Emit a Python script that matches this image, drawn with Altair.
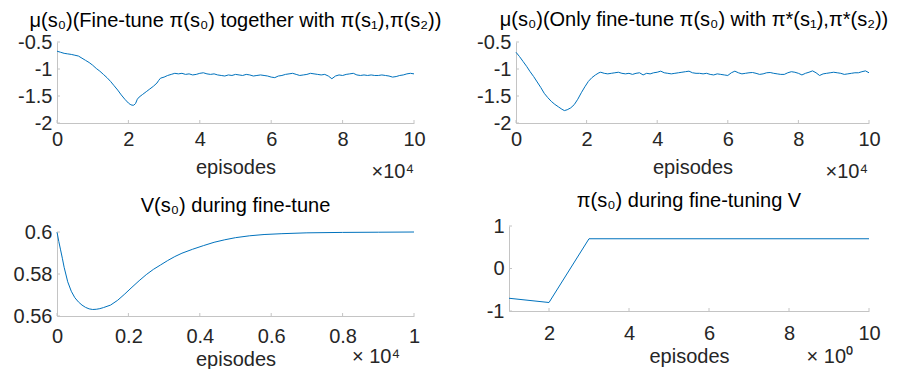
import altair as alt
import pandas as pd

FONT = "Liberation Sans"
BLUE = "#0072BD"
AXIS_GRAY = "#c4c4c4"
TEXT = "#262626"
FS = 20

# ---------------- data ----------------
tl_x = [0.0, 0.1, 0.2, 0.3, 0.4, 0.5, 0.6, 0.7, 0.8, 0.9, 1.0, 1.1, 1.2, 1.3, 1.4, 1.5, 1.6, 1.7, 1.8, 1.9,
        2.0, 2.05, 2.1, 2.15, 2.2, 2.25, 2.3, 2.4, 2.5, 2.6, 2.7, 2.8, 2.85, 2.9, 3.0, 3.1, 3.2, 3.3,
        3.4, 3.5, 3.6, 3.7, 3.8, 3.9, 4.0, 4.1, 4.2, 4.3, 4.4, 4.5, 4.6, 4.7, 4.8, 4.9, 5.0, 5.1, 5.2,
        5.3, 5.4, 5.5, 5.6, 5.7, 5.8, 5.9, 6.0, 6.1, 6.2, 6.3, 6.4, 6.5, 6.6, 6.7, 6.8, 6.9, 7.0, 7.1,
        7.2, 7.3, 7.4, 7.5, 7.6, 7.7, 7.8, 7.9, 8.0, 8.1, 8.2, 8.3, 8.4, 8.5, 8.6, 8.7, 8.8, 8.9, 9.0,
        9.1, 9.2, 9.3, 9.4, 9.5, 9.6, 9.7, 9.8, 9.9, 10.0]
tl_y = [-0.67, -0.69, -0.71, -0.72, -0.73, -0.745, -0.76, -0.80, -0.84, -0.88, -0.93, -0.99, -1.04,
        -1.10, -1.16, -1.23, -1.31, -1.39, -1.48, -1.56, -1.63, -1.655, -1.67, -1.67, -1.64, -1.56,
        -1.52, -1.47, -1.42, -1.37, -1.32, -1.26, -1.21, -1.17, -1.15, -1.12, -1.10, -1.08,
        -1.09, -1.08, -1.10, -1.09, -1.11, -1.10, -1.08, -1.07, -1.09, -1.10, -1.09, -1.11, -1.12,
        -1.13, -1.11, -1.12, -1.10, -1.11, -1.12, -1.10, -1.11, -1.13, -1.12, -1.11, -1.12, -1.13,
        -1.15, -1.16, -1.13, -1.12, -1.10, -1.09, -1.08, -1.10, -1.12, -1.11, -1.10, -1.08, -1.09,
        -1.10, -1.11, -1.10, -1.13, -1.18, -1.13, -1.11, -1.12, -1.10, -1.09, -1.08, -1.11, -1.12,
        -1.11, -1.12, -1.11, -1.12, -1.12, -1.11, -1.12, -1.13, -1.15, -1.14, -1.12, -1.11, -1.09,
        -1.08, -1.09]

tr_x = [0.0, 0.1, 0.2, 0.3, 0.4, 0.5, 0.6, 0.7, 0.8, 0.9, 1.0, 1.1, 1.2, 1.3, 1.37, 1.45, 1.55, 1.65,
        1.75, 1.85, 1.95, 2.05, 2.15, 2.25, 2.35, 2.4,
        2.5, 2.6, 2.7, 2.8, 2.9, 3.0, 3.1, 3.2, 3.3, 3.4, 3.5, 3.6, 3.7, 3.8, 3.9, 4.0, 4.1, 4.2, 4.3,
        4.4, 4.5, 4.6, 4.7, 4.8, 4.9, 5.0, 5.1, 5.2, 5.3, 5.4, 5.5, 5.6, 5.7, 5.8, 5.9, 6.0, 6.1, 6.2,
        6.3, 6.4, 6.5, 6.6, 6.7, 6.8, 6.9, 7.0, 7.1, 7.2, 7.3, 7.4, 7.5, 7.6, 7.7, 7.8, 7.9, 8.0, 8.1,
        8.2, 8.3, 8.4, 8.5, 8.6, 8.7, 8.8, 8.9, 9.0, 9.1, 9.2, 9.3, 9.4, 9.5, 9.6, 9.7, 9.8, 9.9, 10.0]
tr_y = [-0.69, -0.77, -0.86, -0.95, -1.05, -1.14, -1.24, -1.34, -1.45, -1.53, -1.60, -1.655, -1.70,
        -1.745, -1.77, -1.755, -1.72, -1.66, -1.56, -1.44, -1.33, -1.23, -1.16, -1.11, -1.07, -1.06,
        -1.08, -1.09, -1.08, -1.07, -1.06, -1.08, -1.09, -1.08, -1.10, -1.08, -1.07, -1.11, -1.08,
        -1.09, -1.07, -1.06, -1.04, -1.07, -1.08, -1.09, -1.08, -1.07, -1.06, -1.05, -1.04, -1.07,
        -1.08, -1.08, -1.09, -1.08, -1.10, -1.11, -1.09, -1.10, -1.11, -1.12, -1.07, -1.04, -1.07,
        -1.09, -1.08, -1.07, -1.065, -1.08, -1.10, -1.09, -1.07, -1.065, -1.08, -1.09, -1.10, -1.10,
        -1.07, -1.05, -1.06, -1.08, -1.11, -1.08, -1.06, -1.035, -1.07, -1.12, -1.09, -1.08, -1.07,
        -1.06, -1.07, -1.08, -1.10, -1.09, -1.08, -1.07, -1.07, -1.05, -1.035, -1.07]

bl_x = [0.0, 0.005, 0.01, 0.015, 0.02, 0.03, 0.04, 0.05, 0.06, 0.07, 0.08, 0.09, 0.1, 0.11, 0.12,
        0.13, 0.15, 0.17, 0.19, 0.21, 0.23, 0.25, 0.27, 0.29, 0.31, 0.33, 0.35, 0.38, 0.41, 0.44,
        0.47, 0.5, 0.54, 0.58, 0.63, 0.7, 0.8, 0.9, 1.0]
bl_y = [0.6, 0.5955, 0.5915, 0.5875, 0.5832, 0.5763, 0.5718, 0.5687, 0.5667, 0.5652, 0.5641, 0.5634,
        0.5631, 0.5632, 0.5635, 0.564, 0.5652, 0.5675, 0.5705, 0.5737, 0.5768, 0.5797, 0.5822,
        0.5843, 0.5864, 0.5883, 0.5899, 0.5918, 0.5935, 0.5951, 0.5963, 0.5973, 0.5982, 0.5988,
        0.5992, 0.5996, 0.5998, 0.5999, 0.6]

br_x = [1, 2, 3, 4, 5, 6, 7, 8, 9, 10]
br_y = [-0.7, -0.8, 0.7, 0.7, 0.7, 0.7, 0.7, 0.7, 0.7, 0.7]

tl_xticks = [0, 2, 4, 6, 8, 10]
tl_yticks = [-2, -1.5, -1, -0.5]
bl_xticks = [0, 0.2, 0.4, 0.6, 0.8, 1]
bl_yticks = [0.56, 0.58, 0.6]
br_xticks = [2, 4, 6, 8, 10]
br_yticks = [-1, 0, 1]

titles = [
    "μ(s₀)(Fine-tune π(s₀) together with π(s₁),π(s₂))",
    "μ(s₀)(Only fine-tune π(s₀) with π*(s₁),π*(s₂))",
    "V(s₀) during fine-tune",
    "π(s₀) during fine-tuning V",
]
xlabel = "episodes"
sci_labels = ["×10⁴", "×10⁴", "× 10⁴", "× 10⁰"]

LABEL_EXPR = "'' + datum.value"


def panel(xs, ys, xdom, ydom, xticks, yticks, width, height, title, sci, *,
          xrange=None, yrange=None, yoffset=0, x_lp=6, title_y=49,
          sci_x=0, sci_y=0, title_offset=2, title_dx=0, pin=False):
    xkw = dict(domain=xdom, nice=False, zero=False)
    if xrange:
        xkw["range"] = xrange
    ykw = dict(domain=ydom, nice=False, zero=False)
    if yrange:
        ykw["range"] = yrange
    xsc = alt.Scale(**xkw)
    ysc = alt.Scale(**ykw)
    x0 = xrange[0] if xrange else 0
    xax = alt.Axis(values=xticks, title=xlabel, labelPadding=x_lp,
                   titleY=title_y, titleBaseline="alphabetic",
                   labelExpr=LABEL_EXPR, labelFlush=False)
    yax = alt.Axis(values=yticks, title=None, labelPadding=5,
                   offset=yoffset, labelExpr=LABEL_EXPR, labelFlush=False)

    line = alt.Chart(pd.DataFrame({"x": xs, "y": ys})).mark_line(
        color=BLUE, strokeWidth=1
    ).encode(
        x=alt.X("x:Q", scale=xsc, axis=xax),
        y=alt.Y("y:Q", scale=ysc, axis=yax),
    )
    xt = alt.Chart(pd.DataFrame({"x": xticks})).mark_rule(
        color=AXIS_GRAY, strokeWidth=1
    ).encode(
        x=alt.X("x:Q", scale=xsc, axis=xax),
        y=alt.value(height), y2=alt.value(height - 3),
    )
    yt = alt.Chart(pd.DataFrame({"y": yticks})).mark_rule(
        color=AXIS_GRAY, strokeWidth=1
    ).encode(
        y=alt.Y("y:Q", scale=ysc, axis=yax),
        x=alt.value(x0), x2=alt.value(x0 + 3),
    )
    st = alt.Chart(pd.DataFrame({"t": [sci]})).mark_text(
        align="right", baseline="alphabetic", font=FONT, fontSize=FS, color=TEXT
    ).encode(x=alt.value(sci_x), y=alt.value(sci_y), text="t:N")
    layers = [line, xt, yt, st]
    if pin:
        pn = alt.Chart(pd.DataFrame({"p": [0]})).mark_rule(
            strokeOpacity=0, color="white", strokeWidth=1
        ).encode(x=alt.value(-48.5), x2=alt.value(0), y=alt.value(-33.5))
        layers.append(pn)
    return alt.layer(*layers).properties(
        width=width, height=height,
        title=alt.TitleParams(text=title, frame="group", anchor="middle",
                              baseline="top", offset=title_offset, dx=title_dx,
                              font=FONT, fontSize=FS, fontWeight="normal",
                              color="black"),
    )


tl = panel(tl_x, tl_y, [0, 10], [-2, -0.5], tl_xticks, tl_yticks, 357, 81, titles[0],
           sci_labels[0], x_lp=6, title_y=50, sci_x=357, sci_y=136,
           title_offset=-22.5, pin=True)
tr = panel(tr_x, tr_y, [0, 10], [-2, -0.5], tl_xticks, tl_yticks, 360, 81, titles[1],
           sci_labels[1], xrange=[7, 360], yoffset=-7, x_lp=6, title_y=50,
           sci_x=359, sci_y=136, title_offset=2, title_dx=5)
bl = panel(bl_x, bl_y, [0, 1], [0.56, 0.6], bl_xticks, bl_yticks, 357, 90, titles[2],
           sci_labels[2], yrange=[90, 6], x_lp=10, title_y=49,
           sci_x=343, sci_y=137, title_offset=6)
br = panel(br_x, br_y, [1, 10], [-1, 1], br_xticks, br_yticks, 360, 85, titles[3],
           sci_labels[3], x_lp=12, title_y=51, sci_x=344, sci_y=137,
           title_offset=5)

chart = alt.concat(
    tl, tr, bl, br, columns=2, spacing={"row": 103, "column": 95}, bounds="flush"
).properties(padding=0).configure_view(stroke=None).configure_axis(
    domainColor=AXIS_GRAY, domainWidth=1, ticks=False, tickSize=0, grid=False,
    labelFont=FONT, labelFontSize=FS, labelColor=TEXT,
    titleFont=FONT, titleFontSize=FS, titleColor=TEXT, titleFontWeight="normal",
)

chart.save("out.html", embed_options={"renderer": "svg", "actions": False})
